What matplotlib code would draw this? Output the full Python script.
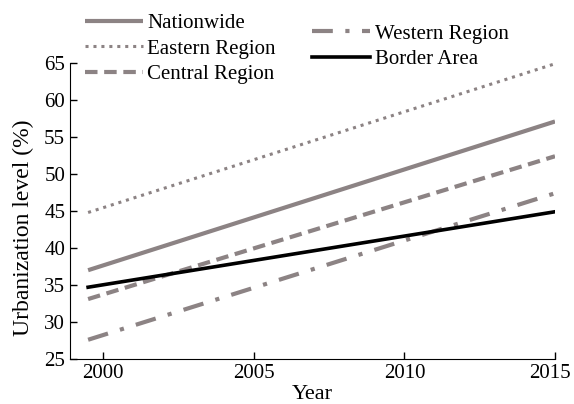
import matplotlib
matplotlib.use("Agg")
import matplotlib.pyplot as plt
from matplotlib.transforms import ScaledTranslation

years = [1999.5, 2015]
nationwide = [37.0, 57.1]
eastern = [44.8, 64.9]
central = [33.1, 52.4]
western = [27.6, 47.4]
border = [34.7, 44.9]

gray = "#8c8384"
plt.rcParams['font.family'] = ['Liberation Serif', 'DejaVu Serif']

fig = plt.figure(figsize=(5.74, 4.04), dpi=100)
ax = fig.add_axes([0.122, 0.1114, 0.8449, 0.7326])

l1, = ax.plot(years, nationwide, color=gray, lw=3, solid_capstyle='butt', label='Nationwide')
l2, = ax.plot(years, eastern, color=gray, lw=2.2, linestyle=(0, (1, 1.6)), label='Eastern Region')
l3, = ax.plot(years, central, color=gray, lw=3, linestyle=(0, (3, 1.6)), label='Central Region')
l4, = ax.plot(years, western, color=gray, lw=3, linestyle=(0, (5, 3, 1, 3)), label='Western Region')
l5, = ax.plot(years, border, color='black', lw=2.6, label='Border Area')

ax.set_xlim(1998.9, 2015)
ax.set_ylim(25, 65)
ax.set_xticks([2000, 2005, 2010, 2015])
ax.set_yticks(range(25, 70, 5))
ax.tick_params(direction='in', length=5, width=1, labelsize=15)
for s in ['top', 'right']:
    ax.spines[s].set_visible(False)
ax.set_xlabel('Year', fontsize=16, labelpad=1.5)
ax.set_ylabel('Urbanization level (%)', fontsize=17, labelpad=7)
ax.yaxis.label.set_y(0.4426)

last = ax.xaxis.get_major_ticks()[-1].label1
last.set_transform(last.get_transform() + ScaledTranslation(-3.5 / 72, 0, fig.dpi_scale_trans))

common = dict(loc='upper left', frameon=False, handlelength=2.8, handletextpad=0.2,
              labelspacing=0.29, borderaxespad=0, borderpad=0, fontsize=15)
leg1 = fig.legend(handles=[l1, l2, l3], bbox_to_anchor=(0.148, 0.9666), **common)
leg2 = fig.legend(handles=[l4, l5], bbox_to_anchor=(0.5436, 0.9406), **common)

fig.savefig('out.png', dpi=100)
